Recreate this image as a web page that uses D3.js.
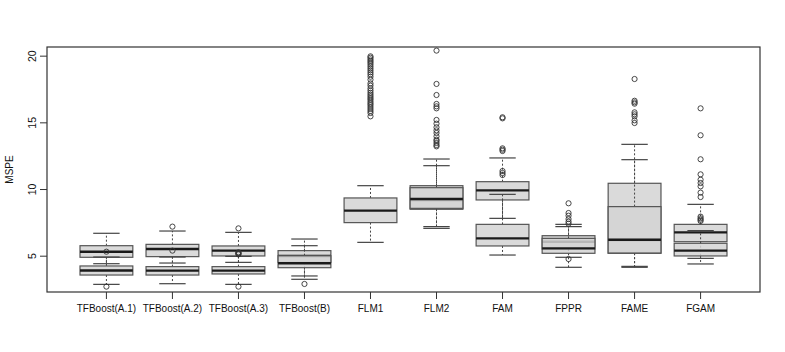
<!DOCTYPE html>
<html>
<head>
<meta charset="utf-8">
<script src="https://cdn.jsdelivr.net/npm/d3@7"></script>
<style>
  body { margin: 0; background: #fff; }
  text { font-family: "Liberation Sans", Arial, sans-serif; fill: #111; }
</style>
</head>
<body>
<div class="box-chart"></div>
<script>
const categories = ['TFBoost(A.1)', 'TFBoost(A.2)', 'TFBoost(A.3)', 'TFBoost(B)',
    'FLM1', 'FLM2', 'FAM', 'FPPR', 'FAME', 'FGAM']

// first boxplot series (drawn first)
const lowA  = [4.40, 4.45, 4.50, 3.48, 6.00, 7.18, 7.80, 4.88, 4.13, 4.80]
const q1A   = [4.88, 4.93, 4.98, 4.50, 7.48, 8.48, 9.18, 5.50, 5.18, 6.05]
const medA  = [5.30, 5.50, 5.38, 4.98, 8.38, 9.18, 9.90, 6.05, 6.18, 6.75]
const q3A   = [5.75, 5.85, 5.73, 5.38, 9.33, 10.25, 10.55, 6.50, 10.43, 7.35]
const highA = [6.68, 6.85, 6.75, 6.25, 10.25, 12.25, 12.33, 7.35, 13.35, 8.85]
const outA = [
    [],
    [7.18],
    [7.05],
    [],
    [19.95, 19.85, 19.72, 19.6, 19.48, 19.35, 19.2, 19.05, 18.9, 18.75, 18.6, 18.42, 18.2,
     17.92, 17.75, 17.55, 17.38, 17.22, 17.08, 16.95, 16.82, 16.7, 16.55, 16.42, 16.3,
     16.15, 16.0, 15.85, 15.7, 15.45],
    [20.38, 17.88, 17.05, 16.38, 16.2, 16.05, 15.18, 14.63, 14.4, 14.2, 13.95, 13.7, 13.45, 13.2],
    [15.3, 15.38, 13.05, 12.95, 12.85],
    [8.93, 8.2, 8.0, 7.75],
    [18.25, 16.62, 16.5, 16.4, 15.75, 15.6, 15.45],
    [16.05, 14.03, 12.23, 11.1, 10.7, 10.45, 10.2, 9.73, 9.4]
]

// second boxplot series (drawn on top), null where only one box shows
const lowB  = [2.85, 2.90, 2.85, 3.23, null, 7.05, 5.05, 4.13, 4.20, 4.38]
const q1B   = [3.55, 3.55, 3.63, 4.10, null, 8.55, 5.73, 5.18, 5.20, 4.98]
const medB  = [3.89, 3.88, 3.88, 4.43, null, 9.25, 6.30, 5.55, 6.20, 5.38]
const q3B   = [4.23, 4.18, 4.18, 5.00, null, 10.10, 7.35, 6.30, 8.68, 5.93]
const highB = [4.90, 4.90, 4.95, 5.75, null, 11.75, 9.60, 7.18, 12.20, 6.88]
const outB = [
    [2.68, 5.30],
    [5.38],
    [2.68, 5.10, 5.15, 5.20, 5.25],
    [2.88],
    [],
    [14.9, 13.6, 13.3],
    [11.05, 11.2, 11.35],
    [4.75, 7.55, 7.4],
    [15.15, 14.95],
    [7.6, 7.7, 7.8, 7.93]
]

const yTicks = [5, 10, 15, 20]

const W = 785, H = 352
const plot = {left: 47, right: 760, top: 47, bottom: 292}

const svg = d3.select(".box-chart").append("svg")
    .attr("width", W)
    .attr("height", H)

const xScale = d3.scaleBand()
    .domain(categories)
    .range([plot.left, plot.right])
    .paddingInner(0.2)
    .paddingOuter(0.5)

const yScale = d3.scaleLinear()
    .domain([2.2775, 20.65])
    .range([plot.bottom, plot.top])

const xAxis = d3.axisBottom(xScale).tickSize(7).tickSizeOuter(0)
const yAxis = d3.axisLeft(yScale).tickValues(yTicks).tickSize(7).tickSizeOuter(0)

function buildSeries(low, q1, med, q3, high, outs) {
    return categories.map((c, i) => ({
        cat: c, low: low[i], q1: q1[i], med: med[i], q3: q3[i], high: high[i], out: outs[i]
    })).filter(d => d.med != null)
}

const seriesList = [
    buildSeries(lowA, q1A, medA, q3A, highA, outA),
    buildSeries(lowB, q1B, medB, q3B, highB, outB)
]

const bw = xScale.bandwidth()
const cx = d => xScale(d.cat) + bw / 2

seriesList.forEach((series, si) => {
    const g = svg.append("g").attr("class", "series-" + si)
    const box = g.selectAll("g.box")
        .data(series)
        .join("g")
        .attr("class", "box")

    // whiskers (dashed)
    box.append("line")
        .attr("x1", cx).attr("x2", cx)
        .attr("y1", d => yScale(d.q3)).attr("y2", d => yScale(d.high))
        .attr("stroke", "#444").attr("stroke-dasharray", "2,2")
    box.append("line")
        .attr("x1", cx).attr("x2", cx)
        .attr("y1", d => yScale(d.q1)).attr("y2", d => yScale(d.low))
        .attr("stroke", "#444").attr("stroke-dasharray", "2,2")

    // staples
    box.selectAll("line.cap")
        .data(d => [d.low, d.high].map(v => ({cat: d.cat, v: v})))
        .join("line")
        .attr("class", "cap")
        .attr("x1", d => cx(d) - bw / 4).attr("x2", d => cx(d) + bw / 4)
        .attr("y1", d => yScale(d.v)).attr("y2", d => yScale(d.v))
        .attr("stroke", "#444").attr("stroke-width", 1.2)

    box.append("rect")
        .attr("x", d => xScale(d.cat))
        .attr("width", bw)
        .attr("y", d => yScale(d.q3))
        .attr("height", d => yScale(d.q1) - yScale(d.q3))
        .attr("fill", "#d3d3d3")
        .attr("fill-opacity", 0.85)
        .attr("stroke", "#555")
        .attr("stroke-width", 1.2)

    box.append("line")
        .attr("x1", d => xScale(d.cat)).attr("x2", d => xScale(d.cat) + bw)
        .attr("y1", d => yScale(d.med)).attr("y2", d => yScale(d.med))
        .attr("stroke", "#1a1a1a").attr("stroke-width", 2.4)

    box.selectAll("circle")
        .data(d => d.out.map(v => ({cat: d.cat, v: v})))
        .join("circle")
        .attr("cx", cx)
        .attr("cy", d => yScale(d.v))
        .attr("r", 2.6)
        .attr("fill", "none")
        .attr("stroke", "#333")
        .attr("stroke-width", 0.9)
})

// frame
svg.append("rect")
    .attr("x", plot.left).attr("y", plot.top)
    .attr("width", plot.right - plot.left)
    .attr("height", plot.bottom - plot.top)
    .attr("fill", "none")
    .attr("stroke", "#333")
    .attr("stroke-width", 1.2)

const xGroup = svg.append("g")
    .attr("transform", `translate(0, ${plot.bottom})`)
    .call(xAxis)
xGroup.select(".domain").remove()
xGroup.selectAll(".tick line").attr("stroke", "#333")
xGroup.selectAll(".tick text")
    .attr("y", 13)
    .style("font-size", "10px")
    .style("font-family", "'Liberation Sans', Arial, sans-serif")
    .attr("fill", "#111")

const yGroup = svg.append("g")
    .attr("transform", `translate(${plot.left}, 0)`)
    .call(yAxis)
yGroup.select(".domain").remove()
yGroup.selectAll(".tick line").attr("stroke", "#333")
yGroup.selectAll(".tick text")
    .attr("x", null).attr("dy", null)
    .attr("transform", "translate(-11,0) rotate(-90)")
    .style("text-anchor", "middle")
    .style("font-size", "10.5px")
    .style("font-family", "'Liberation Sans', Arial, sans-serif")
    .attr("fill", "#111")

svg.append("text")
    .attr("transform", `translate(13, ${(plot.top + plot.bottom) / 2}) rotate(-90)`)
    .style("text-anchor", "middle")
    .style("font-size", "10px")
    .text("MSPE")
</script>
</body>
</html>
